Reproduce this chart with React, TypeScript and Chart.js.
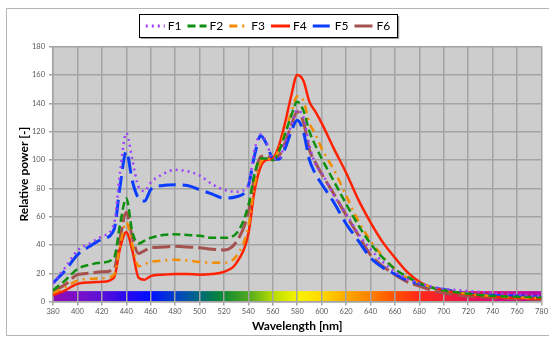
import React, { useEffect, useRef } from 'react';
import { Chart, registerables } from 'chart.js';

Chart.register(...registerables);

// ---- Data ----
const wavelengths = [380, 390, 400, 410, 420, 430, 435, 440, 445, 450, 455, 460, 470, 480, 490, 500, 510, 520, 530, 540, 545, 550, 555, 560, 565, 570, 575, 580, 585, 590, 595, 600, 610, 620, 630, 640, 650, 660, 670, 680, 690, 700, 720, 740, 760, 780];

const f1 = [13, 24, 36, 41, 46, 55, 92, 119, 100, 81, 78, 84, 90, 93, 92, 89, 83, 79, 77.5, 82, 107, 118, 112, 101, 101, 112, 124, 135, 130, 110, 97, 91, 75, 62, 48, 37, 28, 21, 16, 13, 10.5, 9, 7.5, 6, 5, 4];
const f2 = [8, 15, 23, 26, 27.5, 31, 55, 73, 49, 41, 43, 45, 47, 47.5, 47, 46.5, 45, 45, 48, 68, 90, 101, 101, 100, 106, 118, 131, 141, 135, 120, 110, 101, 85, 69, 54, 41, 31, 23, 17.5, 13, 10, 8, 5.5, 4, 3.5, 3];
const f3 = [6, 10, 15, 16, 16.5, 19, 40, 56, 40, 25, 26.5, 28, 29, 29.5, 29, 28, 27.5, 27.5, 32, 53, 82, 98, 101, 100, 108, 120, 133, 145, 142, 126, 118, 108, 93, 75, 57, 43, 32, 23, 17, 13, 10, 8, 5.5, 4, 3, 2.5];
const f4 = [4.5, 8, 12.5, 13.5, 14, 17, 38, 49, 36, 17, 15.5, 18, 19, 19.5, 19.5, 19, 19.5, 21, 27, 48, 78, 95, 100, 101, 110, 126, 145, 160, 156, 141, 134, 126, 108, 91, 72, 56, 42, 31, 21, 14, 10, 8, 5, 3.5, 2.5, 2];
const f5 = [13, 22, 33, 39, 44, 51, 82, 106, 85, 73, 71, 79, 82, 82.5, 82, 79, 76, 73, 74, 82, 103, 117, 111, 101, 100.5, 108, 120, 128, 120, 100, 90, 83, 70, 55, 43, 31, 24, 19.5, 15, 12.5, 10, 8.5, 5.5, 4.5, 4, 3];
const f6 = [7, 12, 19, 20, 21, 23, 45, 63, 45, 34, 36, 38, 38.5, 39, 38.5, 38, 37, 36.5, 42, 63, 88, 102, 103, 100, 103, 112, 124, 134, 127, 107, 98, 90, 76, 61, 47, 33, 25, 19, 14, 11, 8, 6, 4, 3, 2, 1.5];

const seriesNames = ['F1', 'F2', 'F3', 'F4', 'F5', 'F6'];
const seriesValues = [f1, f2, f3, f4, f5, f6];
const seriesColors = ['#9b40ff', '#0f8f0f', '#f28c00', '#ff2200', '#0b3dff', '#a5524e'];
const seriesDashes: number[][] = [[2, 4], [8, 4], [8, 5, 2, 5], [], [17, 7], [18, 5]];
const seriesWidths = [2.5, 2.5, 2.5, 2.5, 3, 3];

const xMin = 380;
const xMax = 780;
const xStep = 20;
const yMin = 0;
const yMax = 180;
const yStep = 20;

const spectrumTop = 7.4;
const spectrumStops: [number, string][] = [
  [380, '#8e0cb5'], [400, '#7a0fc8'], [420, '#5a10d8'], [440, '#2a08f0'], [460, '#0010ff'],
  [480, '#0040c8'], [500, '#006a80'], [510, '#007a50'], [520, '#0f8a30'], [540, '#50a820'],
  [560, '#b4dc00'], [580, '#f8f400'], [600, '#ffd800'], [620, '#ffaa00'], [640, '#ff8000'],
  [660, '#ff5000'], [680, '#ff2818'], [700, '#f52030'], [720, '#e81050'], [740, '#d80c70'],
  [760, '#c80890'], [780, '#b808a8'],
];

const FONT = 'Lato';
const GRID = '#a3a3a3';

const backgroundPlugin = {
  id: 'bgSpectrum',
  beforeDraw(chart: any) {
    const { ctx, chartArea, scales } = chart;
    ctx.save();
    ctx.fillStyle = '#cdcdcd';
    ctx.fillRect(chartArea.left, chartArea.top, chartArea.right - chartArea.left, chartArea.bottom - chartArea.top);
    const x0 = scales.x.getPixelForValue(xMin);
    const x1 = scales.x.getPixelForValue(xMax);
    const y0 = scales.y.getPixelForValue(0);
    const y1 = scales.y.getPixelForValue(spectrumTop);
    const g = ctx.createLinearGradient(x0, 0, x1, 0);
    spectrumStops.forEach(([w, c]) => g.addColorStop((w - xMin) / (xMax - xMin), c));
    ctx.fillStyle = g;
    ctx.fillRect(x0, y1, x1 - x0, y0 - y1);
    ctx.restore();
  },
};

const legendPlugin = {
  id: 'boxLegend',
  afterDraw(chart: any) {
    const { ctx } = chart;
    const ds = chart.data.datasets;
    ctx.save();
    ctx.font = `12px ${FONT}`;
    const lineLen = 19;
    const textGap = 3;
    const itemGap = 6;
    const widths = ds.map((d: any) => lineLen + textGap + ctx.measureText(d.label).width);
    const total = widths.reduce((a: number, b: number) => a + b, 0) + itemGap * (ds.length - 1);
    const padX = 7;
    const boxW = total + padX * 2;
    const boxH = 23;
    const cx = 268;
    const boxL = cx - boxW / 2;
    const boxT = 14;
    ctx.fillStyle = '#9a9a9a';
    ctx.fillRect(boxL + 2, boxT + 2, boxW, boxH);
    ctx.fillStyle = '#ffffff';
    ctx.fillRect(boxL, boxT, boxW, boxH);
    ctx.strokeStyle = '#000000';
    ctx.lineWidth = 1;
    ctx.strokeRect(Math.round(boxL) + 0.5, boxT + 0.5, Math.round(boxW), boxH);
    let x = boxL + padX;
    const cy = boxT + boxH / 2 + 0.5;
    ds.forEach((d: any, i: number) => {
      ctx.beginPath();
      ctx.setLineDash(d.borderDash || []);
      ctx.strokeStyle = d.borderColor;
      ctx.lineWidth = 3;
      ctx.moveTo(x, cy);
      ctx.lineTo(x + lineLen, cy);
      ctx.stroke();
      ctx.setLineDash([]);
      ctx.fillStyle = '#000000';
      ctx.textBaseline = 'middle';
      ctx.textAlign = 'left';
      ctx.fillText(d.label, x + lineLen + textGap, cy);
      x += widths[i] + itemGap;
    });
    ctx.restore();
  },
};

export default function App() {
  const ref = useRef<HTMLCanvasElement | null>(null);

  useEffect(() => {
    if (!ref.current) return;
    const datasets = seriesNames.map((name, i) => ({
      label: name,
      data: wavelengths.map((w, j) => ({ x: w, y: seriesValues[i][j] })),
      borderColor: seriesColors[i],
      backgroundColor: seriesColors[i],
      borderDash: seriesDashes[i],
      borderWidth: seriesWidths[i],
      pointRadius: 0,
      fill: false,
      cubicInterpolationMode: 'monotone' as const,
    }));
    const tickFont = { family: FONT, size: 7.5 };
    const chart = new Chart(ref.current, {
      type: 'line',
      data: { datasets },
      options: {
        responsive: false,
        animation: false,
        layout: { padding: { top: 46.6, right: 7, left: 0, bottom: 0 } },
        plugins: { legend: { display: false }, tooltip: { enabled: false } },
        scales: {
          x: {
            type: 'linear',
            min: xMin,
            max: xMax,
            ticks: { stepSize: xStep, font: tickFont, color: '#595959', padding: 1, maxRotation: 0, autoSkip: false },
            grid: { color: GRID, lineWidth: 1.5, tickLength: 4 },
            border: { color: GRID, width: 1.5 },
            title: { display: true, text: 'Wavelength [nm]', font: { family: FONT, size: 12, weight: 'bold' }, color: '#000', padding: { top: 0, bottom: 5 } },
            afterFit: (s: any) => { s.height = 36.4; },
          },
          y: {
            min: yMin,
            max: yMax,
            ticks: { stepSize: yStep, font: tickFont, color: '#595959', padding: 4 },
            grid: { color: GRID, lineWidth: 1.5, tickLength: 4 },
            border: { color: GRID, width: 1.5 },
            title: { display: true, text: 'Relative power [-]', font: { family: FONT, size: 12, weight: 'bold' }, color: '#000', padding: { top: 17, bottom: 0 } },
            afterFit: (s: any) => { s.width = 53; },
          },
        },
      },
      plugins: [backgroundPlugin, legendPlugin],
    });
    return () => chart.destroy();
  }, []);

  return (
    <div style={{ position: 'fixed', left: 0, top: 0, width: 549, height: 338, background: '#fff', overflow: 'hidden' }}>
      <div style={{ position: 'absolute', left: 6, top: 8, width: 600, height: 326, border: '1px solid #b5b5b5', background: '#fff' }} />
      <canvas ref={ref} width={549} height={338} style={{ position: 'absolute', left: 0, top: 0, width: 549, height: 338 }} />
    </div>
  );
}
